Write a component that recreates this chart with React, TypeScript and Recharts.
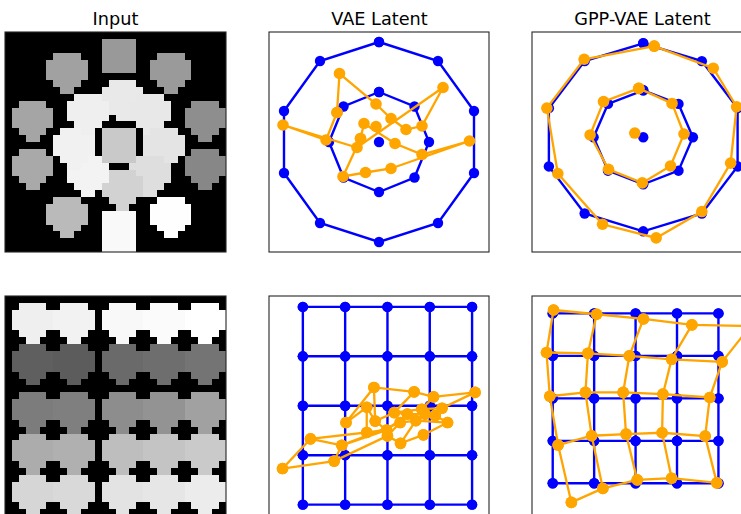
import React from 'react';
import { ScatterChart, Scatter, XAxis, YAxis, ReferenceArea } from 'recharts';

const BLUE = '#0000ff';
const ORANGE = '#ffa500';

const TITLES = ['Input', 'VAE Latent', 'GPP-VAE Latent'];

// ---- Input images (32 x 32 pixel canvas) ----
// Rotated-square sprite footprint, 6x6 pixels, per row: [first column, end column)
const SPRITE_ROWS: [number, number][] = [[1, 5], [0, 6], [0, 6], [0, 6], [1, 5], [2, 4]];

// Ring image: outer ring (10), inner ring (8), centre (1)
const RING_SPRITE_COL = [14, 21, 26, 26, 21, 14, 6, 1, 1, 6, 14, 18, 20, 18, 14, 9, 7, 9, 14];
const RING_SPRITE_ROW = [1, 3, 10, 17, 24, 26, 24, 17, 10, 3, 7, 9, 14, 18, 20, 18, 14, 9, 14];
// axis-aligned squares carry their own size; the others use the 6x6 footprint
const RING_SPRITE_SQUARE = [true, false, false, false, false, true, false, false, false, false,
  false, false, false, false, false, false, false, false, true];
const RING_SPRITE_W = [5, 6, 6, 6, 6, 5, 6, 6, 6, 6, 6, 6, 6, 6, 6, 6, 6, 6, 5];
const RING_SPRITE_H = [5, 6, 6, 6, 6, 6, 6, 6, 6, 6, 6, 6, 6, 6, 6, 6, 6, 6, 5];
const RING_SPRITE_GRAY = [
  '#999999', '#9a9a9a', '#8e8e8e', '#878787', '#fefefe', '#f9f9f9', '#bababa', '#a9a9a9', '#a5a5a5', '#a1a1a1',
  '#e9e9e9', '#e8e8e8', '#e4e4e4', '#dedede', '#d2d2d2', '#f3f3f3', '#f1f1f1', '#efefef',
  '#c9c9c9',
];

// Grid image: 5 x 5 sprites
const GRID_SPRITE_POS = [1, 7, 14, 20, 26];
const GRID_SPRITE_GRAY = [
  ['#efefef', '#f2f2f2', '#f8f8f8', '#fbfbfb', '#ffffff'],
  ['#5f5f5f', '#5c5c5c', '#6a6a6a', '#6e6e6e', '#747474'],
  ['#7c7c7c', '#7f7f7f', '#8d8d8d', '#939393', '#a1a1a1'],
  ['#acacac', '#b0b0b0', '#bebebe', '#c4c4c4', '#cacaca'],
  ['#d6d6d6', '#d9d9d9', '#e3e3e3', '#e6e6e6', '#ececec'],
];

// ---- Latent spaces: rings ----
const BLUE_OUTER_X = [0, 1.18, 1.9, 1.9, 1.18, 0, -1.18, -1.9, -1.9, -1.18];
const BLUE_OUTER_Y = [2, 1.62, 0.62, -0.62, -1.62, -2, -1.62, -0.62, 0.62, 1.62];
const BLUE_INNER_X = [0, 0.71, 1, 0.71, 0, -0.71, -1, -0.71];
const BLUE_INNER_Y = [1, 0.71, 0, -0.71, -1, -0.71, 0, 0.71];
const BLUE_CENTER = [0, 0];

const VAE_RING_A_X = [-0.84, -0.79, -0.06, 0.24, 0.54, 0.86, 1.28, -0.44, -1.92, -1.06];
const VAE_RING_A_Y = [0.59, 1.37, 0.76, 0.47, 0.25, 0.32, 1.09, -0.11, 0.34, 0.04];
const VAE_RING_B_X = [-0.37, -0.72, -0.27, 0.24, 1.81, 0.86, 0.32, -0.3];
const VAE_RING_B_Y = [0.07, -0.69, -0.61, -0.53, 0.02, -0.25, -0.03, 0.37];
const VAE_RING_CENTER = [-0.06, 0.31];

const GPP_RING_OUTER_X = [0.22, 1.41, 1.88, 1.76, 1.18, 0.26, -0.82, -1.72, -1.94, -1.19];
const GPP_RING_OUTER_Y = [1.94, 1.47, 0.65, -0.55, -1.58, -2.14, -1.85, -0.77, 0.62, 1.66];
const GPP_RING_INNER_X = [-0.09, 0.58, 0.82, 0.55, -0.02, -0.7, -1.07, -0.8];
const GPP_RING_INNER_Y = [1.04, 0.72, 0.07, -0.61, -0.97, -0.68, 0.05, 0.76];
const GPP_RING_CENTER = [-0.17, 0.09];

// ---- Latent spaces: grids (rows top to bottom, columns left to right) ----
const GRID_VALUES = [-2, -1, 0, 1, 2];

const VAE_GRID_X = [
  [-0.98, -0.32, 0.63, 1.09, 2.07],
  [-0.49, -0.29, 0.16, 0.81, 1.29],
  [-0.49, -0.02, 0.47, 0.89, 1.13],
  [-1.82, -1.08, 0.3, 0.67, 1.42],
  [-2.48, -1.26, 0.0, 0.31, 0.85],
];
const VAE_GRID_Y = [
  [-0.34, 0.37, 0.28, 0.18, 0.27],
  [-0.03, -0.31, -0.14, -0.07, -0.05],
  [-0.54, -0.49, -0.17, -0.17, -0.2],
  [-0.67, -0.8, -0.34, -0.3, -0.34],
  [-1.27, -1.12, -0.61, -0.76, -0.59],
];

const GPP_GRID_X = [
  [-1.98, -0.94, 0.19, 1.36, 2.77],
  [-2.15, -1.15, -0.15, 0.87, 2.09],
  [-2.07, -1.21, -0.3, 0.66, 1.79],
  [-1.87, -1.06, -0.23, 0.64, 1.68],
  [-1.55, -0.79, 0.04, 0.87, 1.96],
];
const GPP_GRID_Y = [
  [2.08, 1.98, 1.87, 1.73, 1.7],
  [1.08, 1.06, 1.0, 0.92, 0.86],
  [0.05, 0.14, 0.14, 0.1, 0.02],
  [-1.1, -0.88, -0.84, -0.81, -0.89],
  [-2.45, -2.12, -1.92, -1.88, -1.99],
];

type Pt = { x: number; y: number };
type Series = { points: Pt[]; color: string; r: number; w: number };

const zipPts = (xs: number[], ys: number[]): Pt[] => xs.map((x, i) => ({ x, y: ys[i] }));
const closed = (pts: Pt[]): Pt[] => [...pts, pts[0]];

const BLUE_STYLE = { color: BLUE, r: 5.2, w: 2.4 };
const ORANGE_STYLE = { color: ORANGE, r: 5.8, w: 2.3 };

function gridSeries(xs: number[][], ys: number[][], style: { color: string; r: number; w: number }): Series[] {
  const out: Series[] = [];
  for (let i = 0; i < xs.length; i++) out.push({ points: zipPts(xs[i], ys[i]), ...style });
  for (let j = 0; j < xs[0].length; j++) {
    out.push({ points: xs.map((row, i) => ({ x: row[j], y: ys[i][j] })), ...style });
  }
  return out;
}

const blueGridX = GRID_VALUES.map(() => GRID_VALUES);
const blueGridY = GRID_VALUES.map((v) => GRID_VALUES.map(() => -v));

const blueRings = (): Series[] => [
  { points: closed(zipPts(BLUE_OUTER_X, BLUE_OUTER_Y)), ...BLUE_STYLE },
  { points: closed(zipPts(BLUE_INNER_X, BLUE_INNER_Y)), ...BLUE_STYLE },
  { points: [{ x: BLUE_CENTER[0], y: BLUE_CENTER[1] }], ...BLUE_STYLE },
];

const VAE_RING_SERIES: Series[] = [
  ...blueRings(),
  { points: closed(zipPts(VAE_RING_A_X, VAE_RING_A_Y)), ...ORANGE_STYLE },
  { points: closed(zipPts(VAE_RING_B_X, VAE_RING_B_Y)), ...ORANGE_STYLE },
  { points: [{ x: VAE_RING_CENTER[0], y: VAE_RING_CENTER[1] }], ...ORANGE_STYLE },
];

const GPP_RING_SERIES: Series[] = [
  ...blueRings(),
  { points: closed(zipPts(GPP_RING_OUTER_X, GPP_RING_OUTER_Y)), ...ORANGE_STYLE },
  { points: closed(zipPts(GPP_RING_INNER_X, GPP_RING_INNER_Y)), ...ORANGE_STYLE },
  { points: [{ x: GPP_RING_CENTER[0], y: GPP_RING_CENTER[1] }], ...ORANGE_STYLE },
];

const VAE_GRID_SERIES: Series[] = [
  ...gridSeries(blueGridX, blueGridY, BLUE_STYLE),
  ...gridSeries(VAE_GRID_X, VAE_GRID_Y, ORANGE_STYLE),
];

const GPP_GRID_SERIES: Series[] = [
  ...gridSeries(blueGridX, blueGridY, BLUE_STYLE),
  ...gridSeries(GPP_GRID_X, GPP_GRID_Y, ORANGE_STYLE),
];

// ---- Panels ----
const PANEL = 220;
const COL_LEFT = [5, 269, 532];
const ROW_TOP = [32, 296];

function spritePath(x: number, y: number, w: number, h: number): string {
  const cw = w / 6;
  const ch = h / 6;
  let d = `M${x + SPRITE_ROWS[0][0] * cw},${y}`;
  for (let i = 0; i < SPRITE_ROWS.length; i++) {
    const rx = x + SPRITE_ROWS[i][1] * cw;
    d += `L${rx},${y + i * ch}L${rx},${y + (i + 1) * ch}`;
  }
  for (let i = SPRITE_ROWS.length - 1; i >= 0; i--) {
    const lx = x + SPRITE_ROWS[i][0] * cw;
    d += `L${lx},${y + (i + 1) * ch}L${lx},${y + i * ch}`;
  }
  return d + 'Z';
}

type Sprite = { col: number; row: number; w: number; h: number; square: boolean; gray: string };

const RING_SPRITES: Sprite[] = RING_SPRITE_COL.map((c, i) => ({
  col: c,
  row: RING_SPRITE_ROW[i],
  w: RING_SPRITE_W[i],
  h: RING_SPRITE_H[i],
  square: RING_SPRITE_SQUARE[i],
  gray: RING_SPRITE_GRAY[i],
}));
const GRID_SPRITES: Sprite[] = [];
GRID_SPRITE_POS.forEach((r, i) =>
  GRID_SPRITE_POS.forEach((c, j) =>
    GRID_SPRITES.push({ col: c, row: r, w: 6, h: 6, square: false, gray: GRID_SPRITE_GRAY[i][j] })
  )
);

function ImagePanel({ left, top, sprites }: { left: number; top: number; sprites: Sprite[] }) {
  return (
    <div style={{ position: 'absolute', left, top }}>
      <ScatterChart width={221} height={PANEL} margin={{ top: 0, right: 0, bottom: 0, left: 0 }}>
        <XAxis type="number" dataKey="x" domain={[0, 32]} hide allowDataOverflow />
        <YAxis type="number" dataKey="y" domain={[0, 32]} reversed hide allowDataOverflow />
        <ReferenceArea x1={0} x2={32} y1={0} y2={32} fill="#000" fillOpacity={1} stroke="none" ifOverflow="visible" />
        {sprites.map((s, i) => (
          <ReferenceArea
            key={i}
            x1={s.col}
            x2={s.col + s.w}
            y1={s.row}
            y2={s.row + s.h}
            ifOverflow="hidden"
            shape={(p: any) =>
              s.square ? (
                <rect x={p.x} y={p.y} width={p.width} height={p.height} fill={s.gray} shapeRendering="crispEdges" />
              ) : (
                <path d={spritePath(p.x, p.y, p.width, p.height)} fill={s.gray} stroke="none" shapeRendering="crispEdges" />
              )
            }
          />
        ))}
        <Scatter data={[]} isAnimationActive={false} />
      </ScatterChart>
    </div>
  );
}

function LatentPanel({
  left,
  top,
  xDomain,
  yDomain,
  series,
}: {
  left: number;
  top: number;
  xDomain: [number, number];
  yDomain: [number, number];
  series: Series[];
}) {
  return (
    <div style={{ position: 'absolute', left, top }}>
      <ScatterChart width={PANEL} height={PANEL} margin={{ top: 0, right: 0, bottom: 0, left: 0 }}>
        <XAxis type="number" dataKey="x" domain={xDomain} hide allowDataOverflow />
        <YAxis type="number" dataKey="y" domain={yDomain} hide allowDataOverflow />
        {series.map((s, i) => (
          <Scatter
            key={i}
            data={s.points}
            line={{ stroke: s.color, strokeWidth: s.w }}
            lineType="joint"
            isAnimationActive={false}
            shape={(p: any) => <circle cx={p.cx} cy={p.cy} r={s.r} fill={s.color} stroke="none" />}
          />
        ))}
      </ScatterChart>
    </div>
  );
}

export default function App() {
  return (
    <div
      style={{
        position: 'absolute',
        left: 0,
        top: 0,
        width: 741,
        height: 514,
        overflow: 'hidden',
        background: '#fff',
        fontFamily: '"DejaVu Sans", sans-serif',
      }}
    >
      <svg width={741} height={514} style={{ position: 'absolute', left: 0, top: 0 }}>
        {TITLES.map((t, i) => (
          <text key={t} x={COL_LEFT[i] + 110.5} y={25} textAnchor="middle" fontSize={17.7} fill="#000">
            {t}
          </text>
        ))}
      </svg>

      <ImagePanel left={COL_LEFT[0]} top={ROW_TOP[0]} sprites={RING_SPRITES} />
      <LatentPanel left={COL_LEFT[1]} top={ROW_TOP[0]} xDomain={[-2.2, 2.2]} yDomain={[-2.2, 2.2]} series={VAE_RING_SERIES} />
      <LatentPanel left={COL_LEFT[2]} top={ROW_TOP[0]} xDomain={[-2.24, 2.19]} yDomain={[-2.44, 2.24]} series={GPP_RING_SERIES} />

      <ImagePanel left={COL_LEFT[0]} top={ROW_TOP[1]} sprites={GRID_SPRITES} />
      <LatentPanel left={COL_LEFT[1]} top={ROW_TOP[1]} xDomain={[-2.8, 2.4]} yDomain={[-2.23, 2.22]} series={VAE_GRID_SERIES} />
      <LatentPanel left={COL_LEFT[2]} top={ROW_TOP[1]} xDomain={[-2.5, 2.81]} yDomain={[-2.77, 2.41]} series={GPP_GRID_SERIES} />

      <svg width={741} height={514} style={{ position: 'absolute', left: 0, top: 0, pointerEvents: 'none' }}>
        {ROW_TOP.map((y) =>
          COL_LEFT.map((x, j) => (
            <rect
              key={`${x}-${y}`}
              x={x}
              y={y}
              width={j === 0 ? 221 : PANEL}
              height={PANEL}
              fill="none"
              stroke="#262626"
              strokeWidth={1.1}
            />
          ))
        )}
      </svg>
    </div>
  );
}
